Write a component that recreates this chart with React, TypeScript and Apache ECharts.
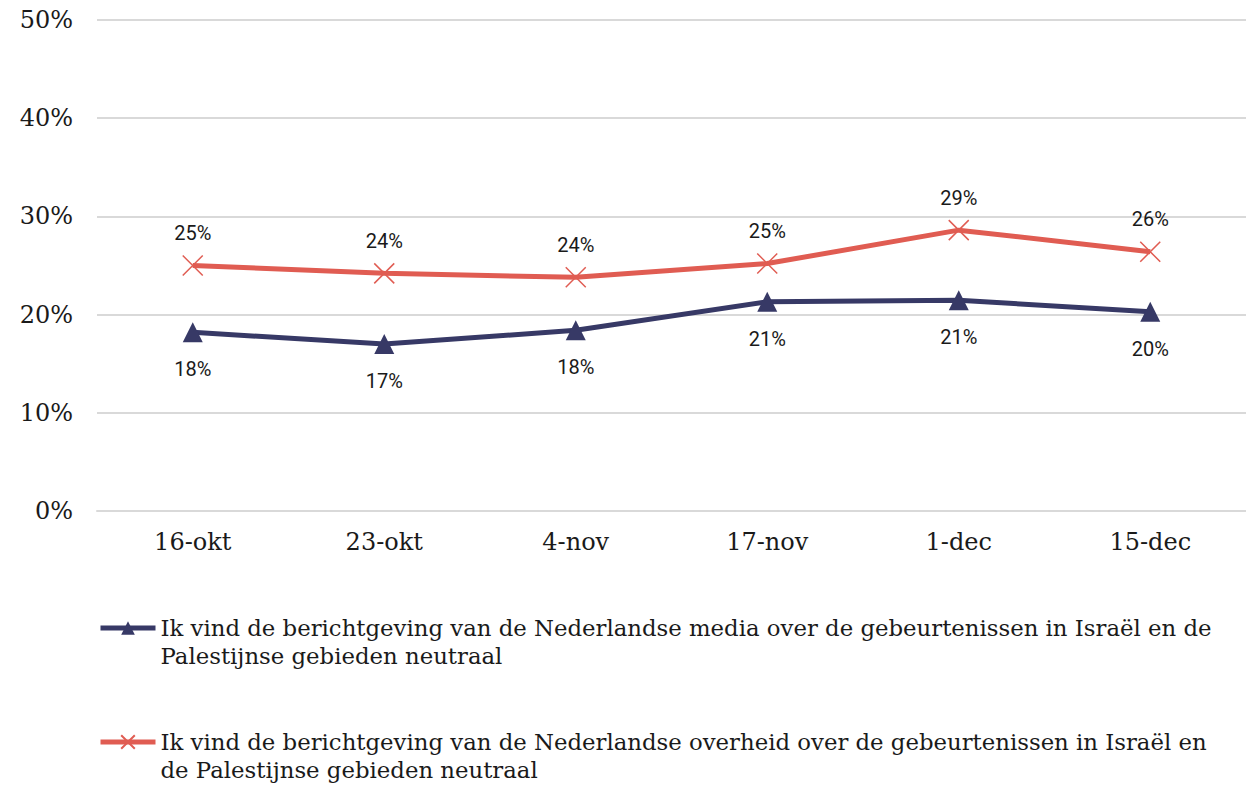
import React, { useEffect, useRef } from "react";
import * as echarts from "echarts";

const categories = ["16-okt", "23-okt", "4-nov", "17-nov", "1-dec", "15-dec"];
const mediaValues = [18.2, 17.0, 18.4, 21.3, 21.45, 20.3];
const overheidValues = [25.0, 24.2, 23.8, 25.2, 28.6, 26.4];
const mediaName =
  "Ik vind de berichtgeving van de Nederlandse media over de gebeurtenissen in Israël en de Palestijnse gebieden neutraal";
const overheidName =
  "Ik vind de berichtgeving van de Nederlandse overheid over de gebeurtenissen in Israël en de Palestijnse gebieden neutraal";
const legendLines: Record<string, string> = {
  [mediaName]:
    " \nIk vind de berichtgeving van de Nederlandse media over de gebeurtenissen in Israël en de\nPalestijnse gebieden neutraal",
  [overheidName]:
    " \nIk vind de berichtgeving van de Nederlandse overheid over de gebeurtenissen in Israël en\nde Palestijnse gebieden neutraal",
};

const BLUE = "#373966";
const RED = "#E05C52";

export default function App() {
  const ref = useRef<HTMLDivElement>(null);
  useEffect(() => {
    if (!ref.current) return;
    const chart = echarts.init(ref.current, null, { renderer: "svg" });
    const labelStyle = {
      show: true,
      color: "#1a1a1a",
      fontSize: 20,
      fontFamily: "Roboto",
      formatter: (p: any) => Math.round(p.value) + "%",
    };
    const legendBase = {
      orient: "vertical",
      left: 93,
      itemWidth: 55,
      itemHeight: 17,
      formatter: (name: string) => legendLines[name] || name,
      lineStyle: { width: 5 },
      textStyle: {
        color: "#1a1a1a",
        fontSize: 22.8,
        fontFamily: "DejaVu Serif",
        lineHeight: 28,
      },
    };
    chart.setOption({
      animation: false,
      backgroundColor: "#ffffff",
      grid: { left: 97, right: -11, top: 20, bottom: 276, containLabel: false },
      xAxis: {
        type: "category",
        data: categories,
        boundaryGap: true,
        axisLine: { show: true, lineStyle: { color: "#d9d9d9", width: 2 } },
        axisTick: { show: false },
        axisLabel: {
          color: "#1a1a1a",
          fontSize: 24,
          fontFamily: "DejaVu Serif",
          margin: 19,
        },
      },
      yAxis: {
        type: "value",
        min: 0,
        max: 50,
        interval: 10,
        axisLine: { show: false },
        axisTick: { show: false },
        splitLine: { lineStyle: { color: "#d9d9d9", width: 2 } },
        axisLabel: {
          color: "#1a1a1a",
          fontSize: 24,
          fontFamily: "DejaVu Serif",
          margin: 24,
          formatter: (v: number) => v + "%",
        },
      },
      legend: [
        { ...legendBase, top: 581, data: [mediaName] },
        { ...legendBase, top: 695, data: [overheidName] },
      ],
      series: [
        {
          name: mediaName,
          type: "line",
          data: mediaValues,
          symbol: "triangle",
          symbolSize: 20,
          lineStyle: { color: BLUE, width: 5 },
          itemStyle: { color: BLUE },
          label: { ...labelStyle, position: "bottom", distance: 17 },
        },
        {
          name: overheidName,
          type: "line",
          data: overheidValues,
          symbol: "path://M0,0 L10,10 M10,0 L0,10",
          symbolSize: 20,
          lineStyle: { color: RED, width: 5 },
          itemStyle: { color: "none", borderColor: RED, borderWidth: 1.5 },
          label: { ...labelStyle, position: "top", distance: 10 },
        },
      ],
    });
    return () => chart.dispose();
  }, []);
  return (
    <div
      ref={ref}
      style={{ position: "fixed", left: 0, top: 0, width: 1246, height: 787 }}
    />
  );
}
